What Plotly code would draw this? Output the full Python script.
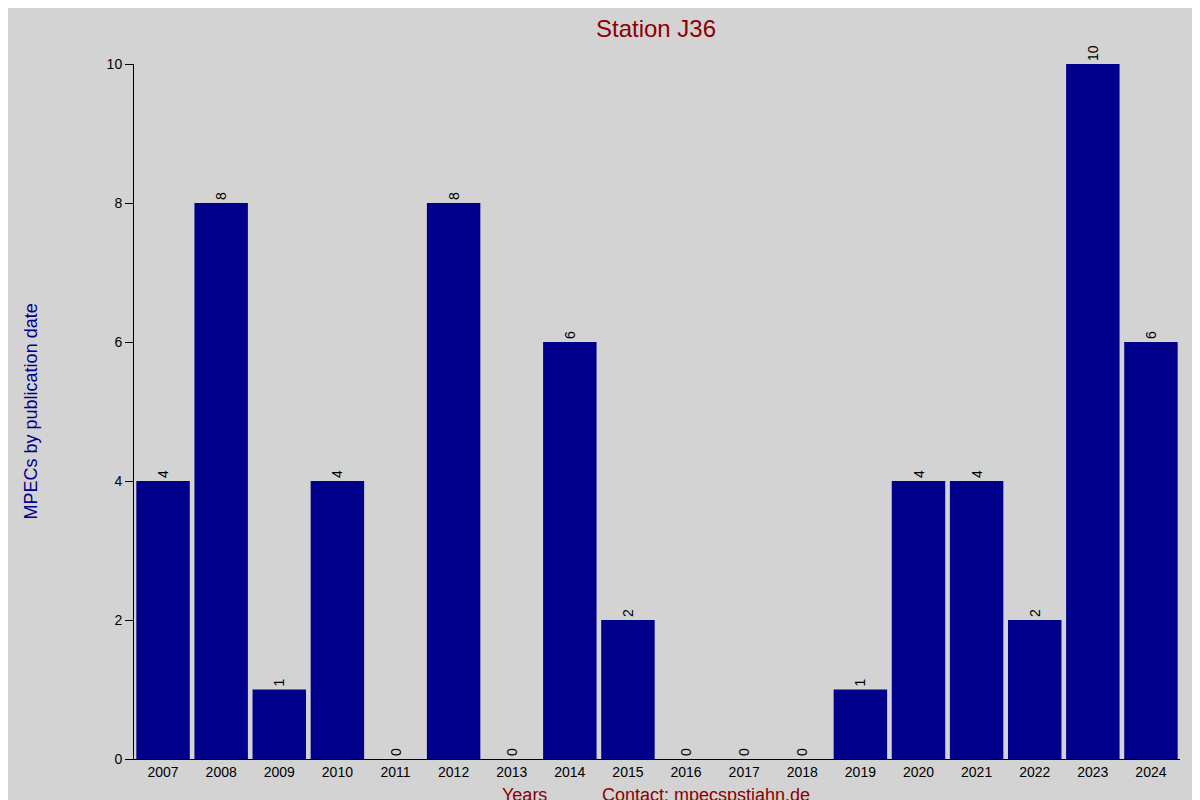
import plotly.graph_objects as go

years = ['2007', '2008', '2009', '2010', '2011', '2012', '2013', '2014', '2015',
         '2016', '2017', '2018', '2019', '2020', '2021', '2022', '2023', '2024']
mpecs = [4, 8, 1, 4, 0, 8, 0, 6, 2, 0, 0, 0, 1, 4, 4, 2, 10, 6]

fig = go.Figure(go.Bar(
    x=years, y=mpecs,
    marker=dict(color='#00008b', line=dict(width=0)),
    text=[str(v) for v in mpecs], textposition='outside', textangle=-90,
    constraintext='none',
    textfont=dict(size=14, color='black'), cliponaxis=False,
))

fig.update_layout(
    width=1200, height=800,
    paper_bgcolor='#d3d3d3', plot_bgcolor='#d3d3d3',
    font=dict(family='Liberation Sans, Arial, sans-serif', size=14, color='black'),
    title=dict(text='Station J36', x=0.54, xanchor='center', y=0.985,
               font=dict(size=24, color='#8b0000')),
    margin=dict(l=126, r=28, t=56, b=49),
    bargap=0.08, showlegend=False,
)
fig.update_xaxes(type='category', range=[-0.5, 17.5], showline=True, linecolor='black',
                 showgrid=False, ticks='', tickfont=dict(size=14))
fig.update_yaxes(range=[0, 10], dtick=2, showline=True, linecolor='black', showgrid=False,
                 zeroline=False, ticks='outside', ticklen=8, tickcolor='black',
                 tickfont=dict(size=14))

fig.add_annotation(text='MPECs by publication date', xref='paper', yref='paper',
                   x=-0.11, y=0.5, textangle=-90, showarrow=False,
                   font=dict(size=18, color='#00008b'))
fig.add_annotation(text='Years', xref='paper', yref='paper', x=0.373, y=-0.035,
                   yanchor='top', showarrow=False, font=dict(size=18, color='#8b0000'))
fig.add_annotation(text='Contact: mpecspstjahn.de', xref='paper', yref='paper',
                   x=0.547, y=-0.035, yanchor='top', showarrow=False,
                   font=dict(size=18, color='#8b0000'))

fig.write_html('out.html')
